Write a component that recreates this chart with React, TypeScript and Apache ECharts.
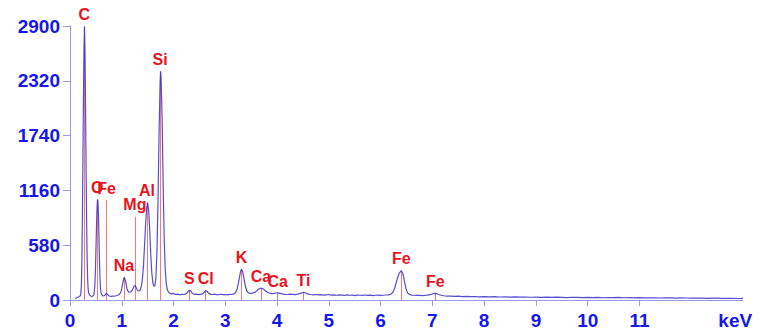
import React, { useEffect, useRef } from "react";
import * as echarts from "echarts";

const spectrumKeV = [
  0.10, 0.12, 0.14, 0.16, 0.18, 0.20, 0.21, 0.22, 0.23, 0.24, 0.25, 0.26, 0.27, 0.28, 0.29, 0.30,
  0.31, 0.32, 0.33, 0.34, 0.35, 0.36, 0.38, 0.40, 0.42, 0.44, 0.46, 0.47, 0.48, 0.49, 0.50, 0.51,
  0.52, 0.53, 0.54, 0.55, 0.56, 0.57, 0.58, 0.59, 0.60, 0.62, 0.64, 0.66, 0.68, 0.70, 0.72, 0.74,
  0.77, 0.80, 0.83, 0.86, 0.89, 0.92, 0.95, 0.98, 1.00, 1.02, 1.04, 1.05, 1.06, 1.08, 1.10, 1.12,
  1.14, 1.17, 1.20, 1.22, 1.24, 1.26, 1.28, 1.30, 1.32, 1.34, 1.36, 1.38, 1.40, 1.42, 1.44, 1.46,
  1.48, 1.50, 1.52, 1.54, 1.56, 1.58, 1.60, 1.62, 1.64, 1.66, 1.68, 1.70, 1.72, 1.74, 1.75, 1.76,
  1.78, 1.80, 1.82, 1.84, 1.86, 1.88, 1.90, 1.93, 1.96, 2.00, 2.04, 2.08, 2.12, 2.16, 2.20, 2.24,
  2.27, 2.30, 2.33, 2.36, 2.40, 2.44, 2.48, 2.52, 2.56, 2.59, 2.62, 2.65, 2.68, 2.72, 2.76, 2.80,
  2.84, 2.88, 2.92, 2.96, 3.00, 3.04, 3.08, 3.12, 3.16, 3.20, 3.23, 3.26, 3.29, 3.31, 3.33, 3.36,
  3.39, 3.42, 3.46, 3.50, 3.54, 3.58, 3.62, 3.66, 3.70, 3.74, 3.78, 3.82, 3.86, 3.90, 3.94, 3.98,
  4.02, 4.06, 4.10, 4.15, 4.20, 4.25, 4.30, 4.35, 4.40, 4.45, 4.50, 4.55, 4.60, 4.65, 4.70, 4.75,
  4.80, 4.85, 4.90, 4.95, 5.00, 5.05, 5.10, 5.15, 5.20, 5.25, 5.30, 5.35, 5.40, 5.45, 5.50, 5.55,
  5.60, 5.65, 5.70, 5.75, 5.80, 5.85, 5.90, 5.95, 6.00, 6.05, 6.10, 6.15, 6.20, 6.24, 6.28, 6.32,
  6.36, 6.40, 6.43, 6.46, 6.49, 6.52, 6.56, 6.60, 6.65, 6.70, 6.75, 6.80, 6.85, 6.90, 6.95, 7.00,
  7.04, 7.08, 7.12, 7.17, 7.22, 7.28, 7.35, 7.42, 7.50, 7.58, 7.66, 7.74, 7.82, 7.90, 8.00, 8.10,
  8.20, 8.30, 8.40, 8.50, 8.60, 8.70, 8.80, 8.90, 9.00, 9.10, 9.20, 9.30, 9.40, 9.50, 9.60, 9.70,
  9.80, 9.90, 10.0, 10.1, 10.2, 10.3, 10.4, 10.5, 10.6, 10.7, 10.8, 10.9, 11.0, 11.1, 11.2, 11.3,
  11.4, 11.5, 11.6, 11.7, 11.8, 11.9, 12.0, 12.1, 12.2, 12.3, 12.4, 12.5, 12.6, 12.7, 12.8, 12.9,
  13.0,
];

const spectrumCounts = [
  12, 20, 28, 32, 38, 45, 70, 160, 420, 900, 1500, 2150, 2650, 2890, 2620, 2050,
  1420, 880, 470, 230, 120, 75, 52, 42, 38, 40, 55, 90, 160, 290, 500, 740,
  940, 1060, 1050, 900, 650, 400, 220, 120, 75, 50, 42, 45, 55, 68, 62, 48,
  40, 38, 42, 40, 45, 50, 58, 80, 120, 180, 230, 240, 235, 185, 120, 92,
  82, 85, 100, 125, 148, 152, 130, 105, 95, 98, 110, 150, 230, 370, 580, 800,
  970, 1030, 950, 740, 480, 290, 185, 145, 150, 240, 520, 1050, 1750, 2300, 2420, 2350,
  1900, 1200, 640, 320, 170, 110, 85, 72, 65, 70, 58, 62, 55, 60, 58, 65,
  80, 102, 96, 72, 60, 62, 56, 60, 64, 82, 98, 90, 70, 60, 58, 62,
  55, 58, 60, 56, 58, 55, 60, 58, 62, 80, 120, 200, 290, 325, 310, 230,
  140, 90, 72, 70, 75, 85, 105, 120, 125, 115, 95, 80, 72, 68, 70, 74,
  76, 70, 64, 60, 58, 62, 60, 56, 62, 70, 80, 74, 62, 58, 55, 58,
  54, 56, 52, 55, 58, 52, 55, 50, 54, 52, 48, 54, 50, 52, 47, 52,
  50, 48, 53, 49, 51, 47, 50, 52, 48, 50, 53, 55, 62, 85, 140, 220,
  285, 310, 280, 200, 120, 75, 58, 52, 50, 48, 50, 47, 49, 52, 56, 64,
  70, 68, 58, 50, 45, 42, 40, 38, 40, 36, 38, 35, 37, 34, 36, 33,
  35, 32, 34, 31, 33, 30, 32, 29, 31, 28, 30, 27, 30, 28, 26, 29,
  27, 25, 28, 26, 27, 24, 26, 25, 27, 24, 25, 23, 25, 22, 24, 23,
  21, 23, 22, 20, 22, 21, 19, 21, 20, 18, 20, 19, 18, 17, 18, 16,
  17,
];

const elementNames = ["C", "O", "Fe", "Na", "Mg", "Al", "Si", "S", "Cl", "K", "Ca", "Ca", "Ti", "Fe", "Fe"];
const elementKeV = [0.277, 0.525, 0.705, 1.041, 1.253, 1.486, 1.74, 2.307, 2.621, 3.312, 3.69, 4.012, 4.51, 6.398, 7.057];
const elementHeights = [2900, 1068, 1058, 240, 880, 1030, 2420, 105, 100, 325, 125, 74, 80, 310, 70];

const xTickValues = [0, 1, 2, 3, 4, 5, 6, 7, 8, 9, 10, 11];
const xUnitPosition = 12.85;
const xUnitLabel = "keV";
const yTickValues = [0, 580, 1160, 1740, 2320, 2900];

export default function App() {
  const ref = useRef<HTMLDivElement>(null);

  useEffect(() => {
    if (!ref.current) return;
    const chart = echarts.init(ref.current, null, { renderer: "svg" });
    const font = "'Liberation Sans', Arial, sans-serif";
    const axisColor = "#9a9af0";
    const labelBlue = "#1616ee";

    const spectrum = spectrumKeV.map((k, i) => [k, spectrumCounts[i]]);
    const markers = elementNames.map((name, i) => [
      { name, coord: [elementKeV[i], 0] },
      { coord: [elementKeV[i], elementHeights[i]] },
    ]);

    chart.setOption({
      animation: false,
      grid: { left: 70, right: 18, top: 26, bottom: 34, outerBoundsMode: "none" },
      xAxis: {
        type: "value",
        min: 0,
        max: 13,
        interval: 1,
        axisLine: { show: true, lineStyle: { color: axisColor, width: 1 } },
        axisTick: {
          show: true,
          length: 6,
          lineStyle: { color: axisColor },
          customValues: xTickValues,
        },
        axisLabel: {
          customValues: [...xTickValues, xUnitPosition],
          formatter: (v: number) => (v > 11.5 ? xUnitLabel : String(v)),
          color: labelBlue,
          fontWeight: "bold",
          fontSize: 19,
          fontFamily: font,
          margin: 11,
        },
        splitLine: { show: false },
      },
      yAxis: {
        type: "value",
        min: 0,
        max: 2900,
        interval: 580,
        axisLine: { show: true, lineStyle: { color: axisColor, width: 1 } },
        axisTick: { show: true, length: 7, lineStyle: { color: axisColor }, customValues: yTickValues },
        axisLabel: {
          customValues: yTickValues,
          formatter: (v: number) => String(v),
          color: labelBlue,
          fontWeight: "bold",
          fontSize: 19,
          fontFamily: font,
          margin: 10,
        },
        splitLine: { show: false },
      },
      series: [
        {
          type: "line",
          name: "markers",
          data: [],
          z: 1,
          markLine: {
            silent: true,
            z: 1,
            symbol: ["none", "none"],
            precision: 3,
            lineStyle: { color: "#f47a7a", width: 1, type: "solid" },
            label: {
              show: true,
              position: "end",
              distance: 4,
              formatter: (p: any) => p.name,
              color: "#e8141c",
              fontWeight: "bold",
              fontSize: 16,
              fontFamily: font,
            },
            emphasis: { disabled: true },
            data: markers,
          },
        },
        {
          type: "line",
          name: "spectrum",
          data: spectrum,
          showSymbol: false,
          symbol: "none",
          lineStyle: { color: "#3a2ec8", width: 1.2, opacity: 0.85 },
          z: 3,
        },
      ],
    });

    return () => chart.dispose();
  }, []);

  return (
    <div
      ref={ref}
      style={{ position: "fixed", left: 0, top: 0, width: 761, height: 334, background: "#ffffff" }}
    />
  );
}
